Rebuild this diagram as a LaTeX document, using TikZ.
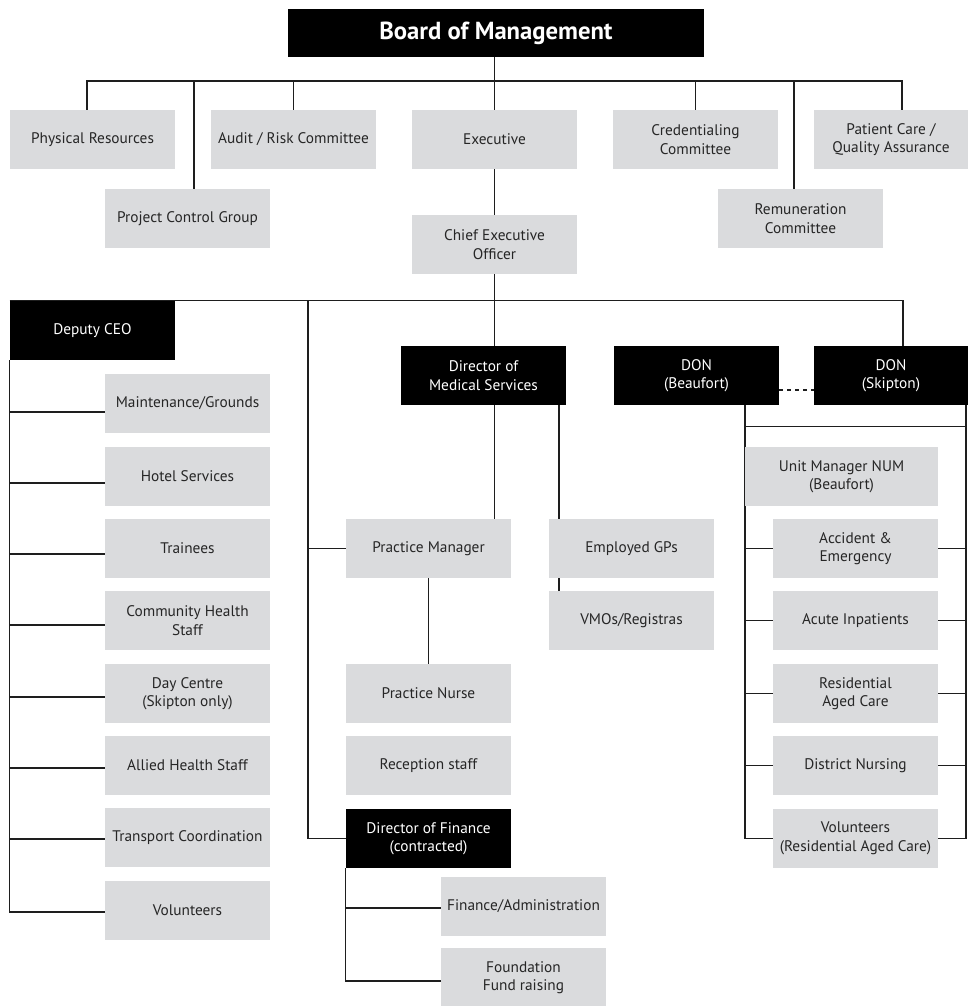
\documentclass[tikz,border=0pt]{standalone}
\usepackage{fontspec}
\setmainfont{PT Sans}
\setsansfont{PT Sans}
\usepackage{tikz}
\usetikzlibrary{positioning,backgrounds}
\definecolor{boxgrey}{RGB}{218,219,221}
\definecolor{linegrey}{RGB}{30,30,30}
\tikzset{
  base/.style={font=\sffamily\fontsize{11.5}{13.8}\selectfont, align=center, inner sep=2pt, text=black!85},
  box/.style={base, rectangle, fill=boxgrey, minimum width=123.75pt, minimum height=44.25pt},
  head/.style={box, fill=black, text=white},
  link/.style={draw=linegrey, line width=1.1pt},
  linkd/.style={link, dashed},
}

\begin{document}
\begin{tikzpicture}[x=0.75pt,y=-0.75pt]
  \useasboundingbox (0,0) rectangle (968,1006);
  % board tier
  \node[head,minimum width=312pt,minimum height=36pt,font=\sffamily\bfseries\fontsize{18.5}{22}\selectfont] (board) at (496,33) {Board of Management};
  \node[box] (phys)    at (92.5,139.5)  {Physical Resources};
  \node[box] (audit)   at (293.5,139.5) {Audit / Risk Committee};
  \node[box] (exec)    at (494.5,139.5) {Executive};
  \node[box] (cred)    at (695.5,139.5) {Credentialing\\Committee};
  \node[box,minimum width=115.5pt] (patient) at (891,139.5) {Patient Care /\\Quality Assurance};
  \node[box] (pcg)     at (187.5,218.5) {Project Control Group};
  \node[box] (remun)   at (800.5,218.5) {Remuneration\\Committee};
  \node[box] (ceo)     at (494.5,244.5) {Chief Executive\\Officer};
  % ceo tier
  \node[head] (dep)  at (92.5,330.5)  {Deputy CEO};
  \node[head] (dms)  at (483.5,375.5) {Director of\\Medical Services};
  \node[head] (donb) at (696.5,375.5) {DON\\(Beaufort)};
  \node[head,minimum width=115.5pt] (dons) at (891,375.5) {DON\\(Skipton)};
  % deputy ceo
  \node[box] (maint) at (187.5,403.5) {Maintenance/Grounds};
  \node[box] (hotel) at (187.5,476.5) {Hotel Services};
  \node[box] (train) at (187.5,548.5) {Trainees};
  \node[box] (comm)  at (187.5,620.5) {Community Health\\Staff};
  \node[box] (day)   at (187.5,693.5) {Day Centre\\(Skipton only)};
  \node[box] (allied) at (187.5,765.5) {Allied Health Staff};
  \node[box] (trans) at (187.5,837.5) {Transport Coordination};
  \node[box] (vol)   at (187.5,910.5) {Volunteers};
  % medical services
  \node[box] (pm)    at (428.5,548.5) {Practice Manager};
  \node[box] (pn)    at (428.5,693.5) {Practice Nurse};
  \node[box] (recep) at (428.5,765.5) {Reception staff};
  \node[head] (dof)  at (428.5,838.5) {Director of Finance\\(contracted)};
  \node[box] (fin)   at (523.5,906)   {Finance/Administration};
  \node[box] (found) at (523.5,977.5) {Foundation\\Fund raising};
  \node[box] (gp)    at (631.5,548.5) {Employed GPs};
  \node[box] (vmo)   at (631.5,620.5) {VMOs/Registras};
  % nursing
  \node[box,minimum width=144.75pt] (num) at (841.5,476.5) {Unit Manager NUM\\(Beaufort)};
  \node[box] (ae)     at (855.5,548.5) {Accident \&\\Emergency};
  \node[box] (acute)  at (855.5,620.5) {Acute Inpatients};
  \node[box] (resid)  at (855.5,693.5) {Residential\\Aged Care};
  \node[box] (dist)   at (855.5,765.5) {District Nursing};
  \node[box] (volrac) at (855.5,838.5) {Volunteers\\(Residential Aged Care)};

  \coordinate (bus1) at (494.5,81);
  \coordinate (midL) at (308,301);

  \begin{scope}[on background layer]
    \draw[link] (exec.north) -- (exec.north |- board.south);
    \draw[link] ([xshift=-4.1pt]phys.north) |- (bus1) -| ([xshift=8.25pt]patient.north);
    \foreach \n/\s in {pcg/4.9,audit/0,cred/0,remun/-4.9}
      \draw[link] ([xshift=\s pt]\n.north) -- ([xshift=\s pt]\n.north |- bus1);
    \draw[link] (exec.south) -- (ceo.north);
    \draw[link] (ceo.south) -- (dms.north -| ceo.south);
    \draw[link] (dep.north west) -| ([xshift=9pt]dons.north);
    % deputy ceo
    \draw[link] (dep.south west) |- ([yshift=-1.1pt]vol.west);
    \foreach \n/\s in {maint/-6.4,hotel/-4.9,train/-4.1,comm/-3.4,day/-2.6,allied/-1.9,trans/-1.1}
      \draw[link] ([yshift=\s pt]\n.west) -- ++(-95,0);
    % medical services
    \draw[link] (midL) |- (dof.west);
    \draw[link] (pm.west) -- (pm.west -| midL);
    \draw[link] (dms.south -| ceo.south) -- (pm.north -| ceo.south);
    \draw[link] ([xshift=56.6pt]dms.south) -- ([xshift=56.6pt]dms.south |- vmo.north);
    \draw[link] (pm.south) -- (pn.north);
    \draw[link] (dof.south west) |- ([yshift=-2.6pt]found.west);
    \draw[link] ([yshift=-1.5pt]fin.west) -- ++(-95,0);
    % nursing
    \draw[linkd] ([yshift=-10.9pt]donb.east) -- ([yshift=-10.9pt]dons.west);
    \draw[link] ([xshift=36.4pt]donb.south) |- (volrac.west);
    \draw[link] ([xshift=56.25pt]dons.south) |- (volrac.east);
    \draw[link] ([xshift=36.4pt,yshift=-15.75pt]donb.south) -- ++(221,0);
    \foreach \n in {ae,acute,resid,dist}{
      \draw[link] (\n.west) -- ++(-28,0);
      \draw[link] (\n.east) -- ++(28,0);
    }
  \end{scope}
\end{tikzpicture}
\end{document}
